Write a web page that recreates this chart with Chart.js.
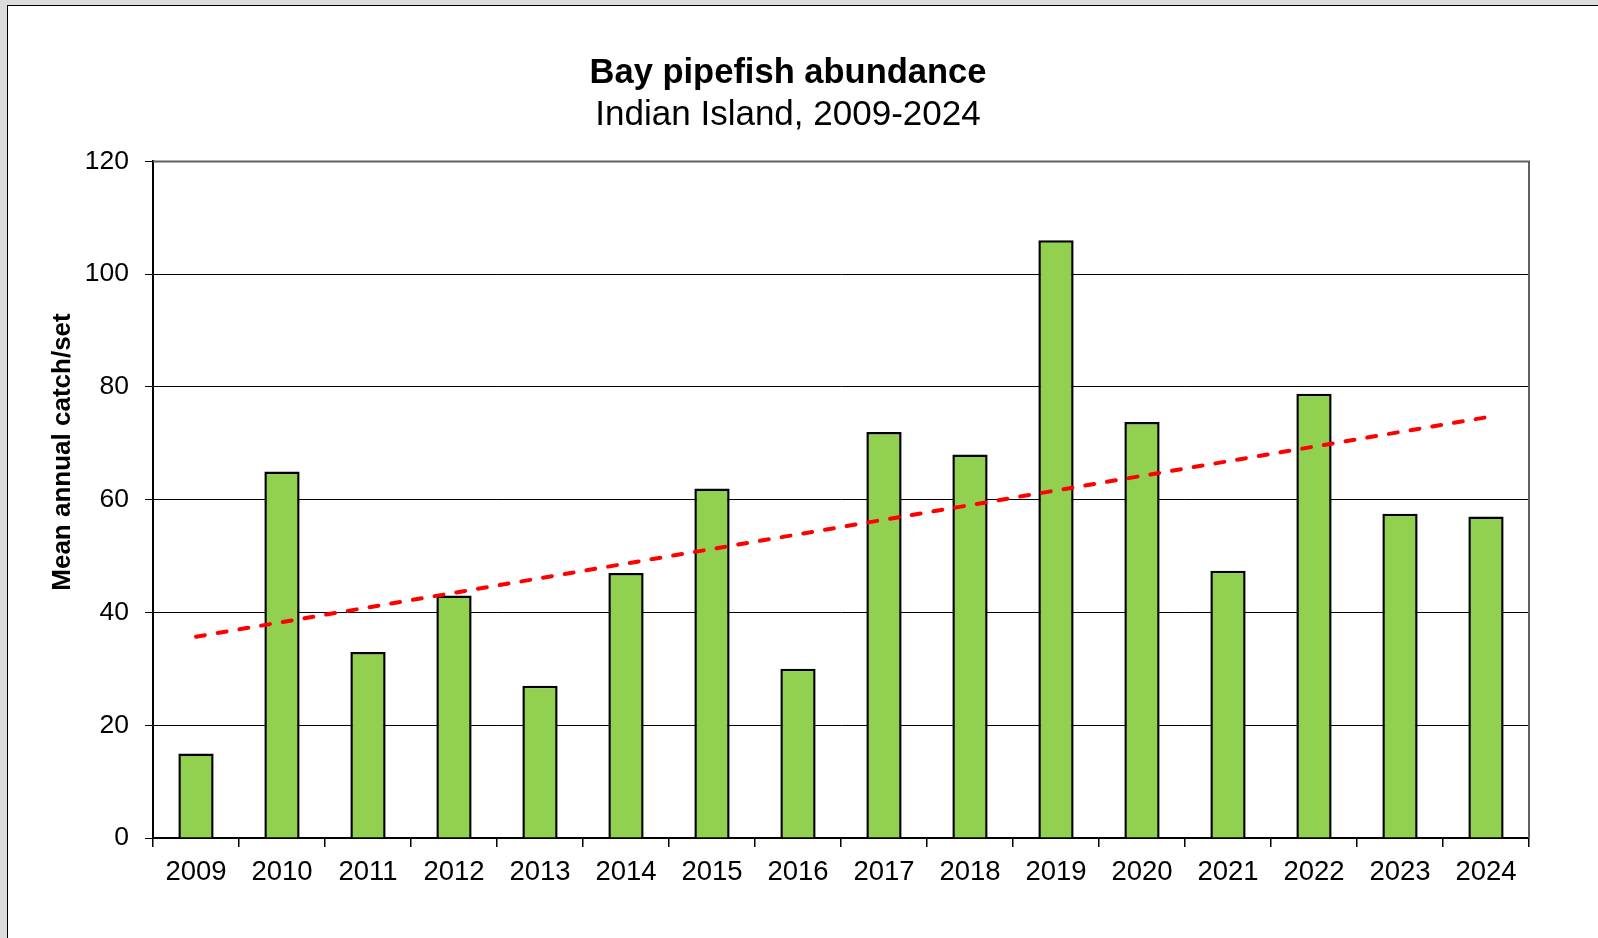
<!DOCTYPE html>
<html lang="en">
<head>
  <meta charset="UTF-8">
  <title>Bay pipefish abundance</title>
  <script src="https://cdn.jsdelivr.net/npm/chart.js"></script>
  <style>
    body { margin: 0; background: #dcdcdc; width: 1598px; height: 938px; overflow: hidden; position: relative; }
    .frame { position: absolute; left: 7px; top: 5px; width: 1600px; height: 940px; background: #fff; border: 1px solid #000; }
    #pipefishChart { position: absolute; left: 0; top: 0; }
  </style>
</head>
<body>
  <div class="frame"></div>
  <canvas id="pipefishChart" width="1598" height="938"></canvas>

  <script>
    // values
    const years = ['2009', '2010', '2011', '2012', '2013', '2014', '2015', '2016',
                   '2017', '2018', '2019', '2020', '2021', '2022', '2023', '2024'];
    const catchPerSet = [15, 65, 33, 43, 27, 47, 62, 30, 72, 68, 106, 73.8, 47.4, 78.8, 57.5, 57];
    // dashed trend: only its two end points are drawn, at 2009 and 2024
    const trendLine = [35.7, null, null, null, null, null, null, null,
                       null, null, null, null, null, null, null, 74.6];
    const yMin = 0, yMax = 120, yStep = 20;

    const FONT = '"Liberation Sans", Arial, sans-serif';
    Chart.defaults.font.family = FONT;
    Chart.defaults.color = '#000';

    // y axis title sits a bit above the middle of the axis, as in the original
    const yTitlePlugin = {
      id: 'yTitle',
      afterDraw(chart) {
        const ctx = chart.ctx;
        ctx.save();
        ctx.translate(63, 452);
        ctx.rotate(-Math.PI / 2);
        ctx.font = 'bold 26px ' + FONT;
        ctx.fillStyle = '#000';
        ctx.textAlign = 'center';
        ctx.textBaseline = 'middle';
        ctx.fillText('Mean annual catch/set', 0, 0);
        ctx.restore();
      }
    };

    // grey top/right edge of the plot area
    const plotFrame = {
      id: 'plotFrame',
      afterDraw(chart) {
        const { ctx, chartArea: a } = chart;
        ctx.save();
        ctx.strokeStyle = '#606060';
        ctx.lineWidth = 2;
        ctx.beginPath();
        ctx.moveTo(a.left, a.top);
        ctx.lineTo(a.right, a.top);
        ctx.lineTo(a.right, a.bottom);
        ctx.stroke();
        ctx.restore();
      }
    };

    new Chart(document.getElementById('pipefishChart'), {
      type: 'bar',
      data: {
        labels: years,
        datasets: [
          {
            type: 'line',
            data: trendLine,
            spanGaps: true,
            borderColor: '#ff0000',
            borderWidth: 4,
            borderDash: [9, 13],
            borderCapStyle: 'round',
            pointRadius: 0,
            order: 0
          },
          {
            data: catchPerSet,
            backgroundColor: '#92d050',
            borderColor: '#000',
            borderWidth: 2.5,
            barPercentage: 0.41,
            categoryPercentage: 1,
            order: 1
          }
        ]
      },
      options: {
        responsive: false,
        animation: false,
        layout: { padding: { left: 47, right: 69, top: 0, bottom: 0 } },
        plugins: {
          legend: { display: false },
          tooltip: { enabled: false },
          title: {
            display: true,
            text: 'Bay pipefish abundance',
            font: { size: 34.5, weight: 'bold' },
            padding: { top: 53, bottom: 0 }
          },
          subtitle: {
            display: true,
            text: 'Indian Island, 2009-2024',
            color: '#000',
            font: { size: 35 },
            padding: { top: 0, bottom: 25 }
          }
        },
        scales: {
          x: {
            grid: { offset: true, drawOnChartArea: false, color: '#000', lineWidth: 1.5, tickLength: 9 },
            border: { color: '#000', width: 2 },
            ticks: { font: { size: 27.5 }, padding: 9, maxRotation: 0, autoSkip: false },
            afterFit(scale) { scale.height = 100; }
          },
          y: {
            min: yMin,
            max: yMax,
            grid: { color: '#000', lineWidth: 1, tickLength: 8 },
            border: { color: '#000', width: 2 },
            ticks: { stepSize: yStep, font: { size: 26.5 }, padding: 16 },
            afterFit(scale) { scale.width = 106; }
          }
        }
      },
      plugins: [yTitlePlugin, plotFrame]
    });
  </script>
</body>
</html>
